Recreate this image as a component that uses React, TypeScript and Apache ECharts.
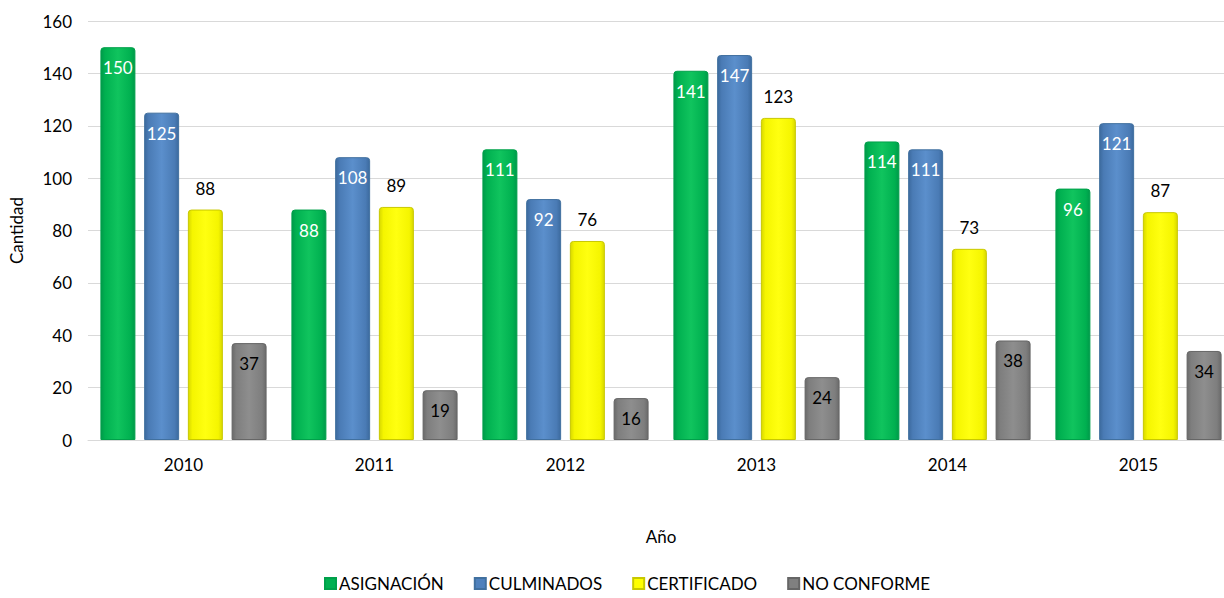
import React, { useEffect, useRef } from "react";
import * as echarts from "echarts";

const years = ["2010", "2011", "2012", "2013", "2014", "2015"];
const asignacion = [150, 88, 111, 141, 114, 96];
const culminados = [125, 108, 92, 147, 111, 121];
const certificado = [88, 89, 76, 123, 73, 87];
const noConforme = [37, 19, 16, 24, 38, 34];

const FONT = "Lato, 'Open Sans', sans-serif";

function grad(dark: string, mid: string, light: string) {
  return new echarts.graphic.LinearGradient(0, 0, 1, 0, [
    { offset: 0, color: dark },
    { offset: 0.12, color: mid },
    { offset: 0.5, color: light },
    { offset: 0.88, color: mid },
    { offset: 1, color: dark },
  ]);
}

export default function App() {
  const ref = useRef<HTMLDivElement>(null);
  useEffect(() => {
    if (!ref.current) return;
    const chart = echarts.init(ref.current, undefined, { renderer: "svg" });
    const mk = (
      name: string,
      data: number[],
      color: any,
      border: string,
      pos: string,
      labelColor: string,
      dist: number
    ) => ({
      name,
      type: "bar",
      data,
      barGap: "25%",
      barCategoryGap: "13%",
      itemStyle: { color, borderColor: border, borderWidth: 1, borderRadius: [3, 3, 0, 0] },
      label: {
        show: true,
        position: pos,
        distance: dist,
        color: labelColor,
        fontSize: 17,
        fontFamily: FONT,
      },
      emphasis: { disabled: true },
    });
    chart.setOption({
      animation: false,
      color: ["#00B050", "#4F81BD", "#FFFF00", "#808080"],
      grid: { left: 87, top: 21, bottom: 158, width: 1147, containLabel: false },
      legend: {
        top: 575,
        left: 324,
        itemWidth: 11,
        itemHeight: 11,
        itemGap: 30,
        icon: "rect",
        padding: 0,
        textStyle: { fontFamily: FONT, fontSize: 17, color: "#000", padding: [0, 0, 0, -2] },
        data: [
          { name: "ASIGNACIÓN", itemStyle: { color: "#00B050" } },
          { name: "CULMINADOS", itemStyle: { color: "#4F81BD" } },
          { name: "CERTIFICADO", itemStyle: { color: "#FFFF00" } },
          { name: "NO CONFORME", itemStyle: { color: "#808080" } },
        ],
      },
      xAxis: {
        type: "category",
        data: years,
        name: "Año",
        nameLocation: "middle",
        nameGap: 88,
        nameTextStyle: { fontFamily: FONT, fontSize: 17, color: "#000" },
        axisLine: { lineStyle: { color: "#d9d9d9" } },
        axisTick: { show: false },
        axisLabel: { fontFamily: FONT, fontSize: 17, color: "#000", margin: 16 },
      },
      yAxis: {
        type: "value",
        min: 0,
        max: 160,
        interval: 20,
        name: "Cantidad",
        nameLocation: "middle",
        nameGap: 63,
        nameTextStyle: { fontFamily: FONT, fontSize: 17, color: "#000" },
        axisLine: { show: false },
        axisTick: { show: false },
        axisLabel: { fontFamily: FONT, fontSize: 17, color: "#000", margin: 16 },
        splitLine: { lineStyle: { color: "#d9d9d9" } },
      },
      series: [
        mk("ASIGNACIÓN", asignacion, grad("#00994a", "#00b050", "#10c45e"), "#00a04a", "insideTop", "#fff", 12),
        mk("CULMINADOS", culminados, grad("#3c6a9e", "#4a7bb5", "#5b8fcc"), "#41709f", "insideTop", "#fff", 12),
        mk("CERTIFICADO", certificado, grad("#d8d800", "#f5f500", "#ffff10"), "#c8c800", "top", "#000", 13),
        mk("NO CONFORME", noConforme, grad("#6a6a6a", "#7e7e7e", "#8e8e8e"), "#666", "insideTop", "#000", 12),
      ],
    });
    return () => chart.dispose();
  }, []);
  return (
    <div style={{ position: "absolute", left: 0, top: 0, width: 1224, height: 598, overflow: "hidden" }}>
      <div ref={ref} style={{ width: 1240, height: 598 }} />
    </div>
  );
}
